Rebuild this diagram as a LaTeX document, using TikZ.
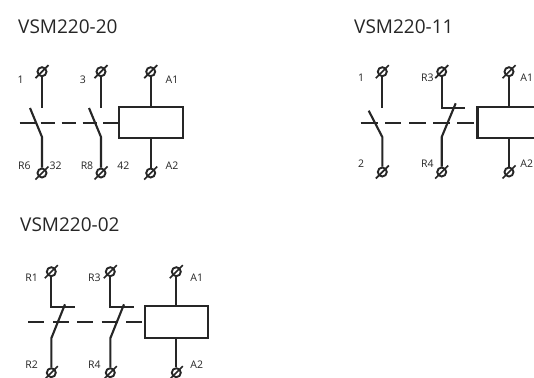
\documentclass[tikz,border=0pt]{standalone}
\usepackage{fontspec}
\setmainfont{Open Sans}
\definecolor{ink}{HTML}{262626}
\tikzset{
  wire/.style={draw=ink,line width=2.1pt},
  dashpart/.style={draw=ink,line width=2pt},
  term/.style={circle,draw=ink,line width=1.9pt,inner sep=0pt,minimum size=9pt,
    append after command={
      (\tikzlastnode.center)++(-6.5,6.5) edge[wire,line width=1.7pt] ++(13,-13)}},
  coil/.style={rectangle,draw=ink,line width=2.1pt,inner sep=0pt,minimum width=63.5pt,minimum height=31.5pt},
  lab/.style={text=ink,font=\fontsize{10.5}{12}\selectfont,inner sep=0pt},
  ttl/.style={text=ink,font=\fontsize{19}{21}\selectfont,inner sep=0pt,anchor=west}
}
\begin{document}
\begin{tikzpicture}[x=1pt,y=-1pt]
\clip (0,0) rectangle (534,377);
\fill[white] (0,0) rectangle (534,377);
% Panel 1
\node[ttl] (title1) at (18,27) {VSM220-20};
\node[term] (a1) at (42,71.7) {};
\node[term] (a2) at (42,173) {};
\node[term] (a3) at (101,71.7) {};
\node[term] (a4) at (101,173) {};
\node[term] (a5) at (150.7,71.7) {};
\node[term] (a6) at (150.7,173) {};
\node[coil] (acoil) at (150.8,122.5) {};
\coordinate (a1o) at (42,108); \coordinate (a2k) at (42,137); \coordinate (a2t) at (30,108);
\coordinate (a3o) at (101,108); \coordinate (a4k) at (101,137); \coordinate (a4t) at (89,108);
\draw[wire] (a1) -- (a1o);
\draw[wire] (a2) -- (a2k) -- (a2t);
\draw[wire] (a3) -- (a3o);
\draw[wire] (a4) -- (a4k) -- (a4t);
\draw[wire] (a5) -- (a5 |- acoil.north);
\draw[wire] (a6) -- (a6 |- acoil.south);
\foreach \p/\q in {19.5/36.5,40.7/55,61.7/76,82.7/96.7,103/119}
  \draw[dashpart] (\p,122.7) -- (\q,122.7);
\node[lab] (la1) at (20.7,80) {1};
\node[lab] (la3) at (83,80) {3};
\node[lab] (laA1) at (172,80) {A1};
\node[lab] (laR6) at (24.3,165.7) {R6};
\node[lab] (la32) at (55.7,165.7) {32};
\node[lab] (laR8) at (87,165.7) {R8};
\node[lab] (la42) at (123.3,165.7) {42};
\node[lab] (laA2) at (172,165.7) {A2};
% Panel 2
\node[ttl] (title2) at (354,27) {VSM220-11};
\node[term] (b1) at (382.3,71.7) {};
\node[term] (b2) at (382.3,172) {};
\node[term] (b3) at (441.7,71.7) {};
\node[term] (b4) at (441.7,172) {};
\node[term] (b5) at (509,71.7) {};
\node[term] (b6) at (509,172) {};
\node[coil] (bcoil) at (509.2,122.5) {};
\coordinate (b1o) at (382.3,108); \coordinate (b2k) at (382.3,137); \coordinate (b2t) at (368.7,110.7);
\coordinate (b3k) at (441.7,107.7); \coordinate (b3e) at (465,107.7);
\coordinate (b4k) at (441.7,137); \coordinate (b4t) at (455.7,103.3);
\draw[wire] (b1) -- (b1o);
\draw[wire] (b2) -- (b2k) -- (b2t);
\draw[wire] (b3) -- (b3k) -- (b3e);
\draw[wire] (b4) -- (b4k) -- (b4t);
\draw[wire] (b5) -- (b5 |- bcoil.north);
\draw[wire] (b6) -- (b6 |- bcoil.south);
\foreach \p/\q in {360.7/378.3,385/401,409/425.7,433.3/450,457.3/474}
  \draw[dashpart] (\p,123) -- (\q,123);
\node[lab] (lb1) at (361,77.7) {1};
\node[lab] (lbR3) at (427.3,77.7) {R3};
\node[lab] (lbA1) at (526.7,77.7) {A1};
\node[lab] (lb2) at (361,163.3) {2};
\node[lab] (lbR4) at (427.3,163.3) {R4};
\node[lab] (lbA2) at (526.7,163.3) {A2};
% Panel 3
\node[ttl] (title3) at (20,225) {VSM220-02};
\node[term] (c1) at (51.3,271.7) {};
\node[term] (c2) at (51.3,372.7) {};
\node[term] (c3) at (110.3,271.7) {};
\node[term] (c4) at (110.3,372.7) {};
\node[term] (c5) at (176.3,271.7) {};
\node[term] (c6) at (176.3,372.7) {};
\node[coil] (ccoil) at (176.4,321.9) {};
\coordinate (c1k) at (51.3,307.3); \coordinate (c1e) at (75,307.3);
\coordinate (c2k) at (51.3,338.3); \coordinate (c2t) at (65,304.3);
\coordinate (c3k) at (110.3,307.3); \coordinate (c3e) at (134,307.3);
\coordinate (c4k) at (110.3,338.3); \coordinate (c4t) at (124,304.3);
\draw[wire] (c1) -- (c1k) -- (c1e);
\draw[wire] (c2) -- (c2k) -- (c2t);
\draw[wire] (c3) -- (c3k) -- (c3e);
\draw[wire] (c4) -- (c4k) -- (c4t);
\draw[wire] (c5) -- (c5 |- ccoil.north);
\draw[wire] (c6) -- (c6 |- ccoil.south);
\foreach \p/\q in {28.3/44.3,53.3/69,77.3/93.3,101.7/118.3,126/141.7}
  \draw[dashpart] (\p,322.3) -- (\q,322.3);
\node[lab] (lcR1) at (31.7,277.7) {R1};
\node[lab] (lcR3) at (94.3,277.7) {R3};
\node[lab] (lcA1) at (196.7,277.7) {A1};
\node[lab] (lcR2) at (31.7,364.3) {R2};
\node[lab] (lcR4) at (94.3,364.3) {R4};
\node[lab] (lcA2) at (196.7,364.3) {A2};
\end{tikzpicture}
\end{document}
